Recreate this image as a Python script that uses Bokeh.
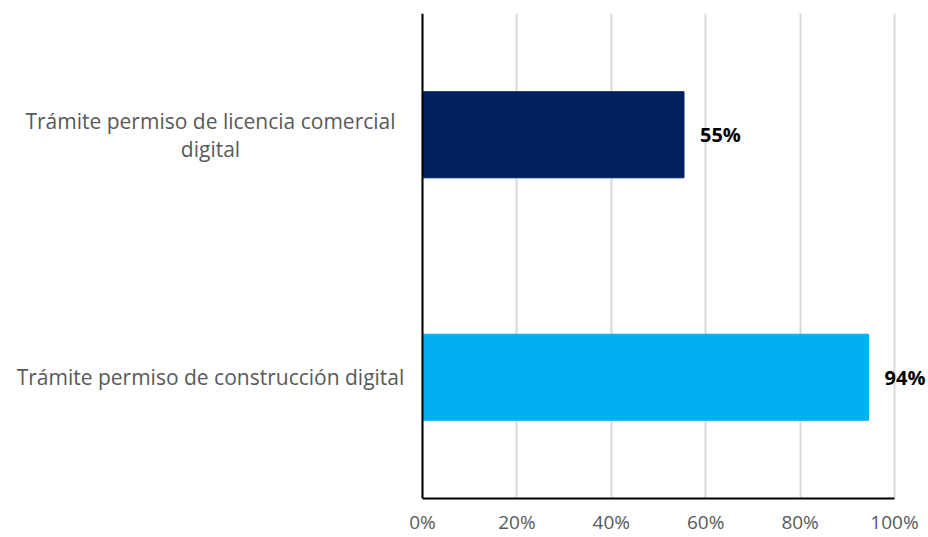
from bokeh.plotting import figure
from bokeh.models import ColumnDataSource, FactorRange, FixedTicker, Span
from bokeh.core.properties import value
from bokeh.embed import file_html
from bokeh.resources import INLINE

categories = ["Trámite permiso de construcción digital",
              "Trámite permiso de licencia comercial\ndigital"]
values = [94.5, 55.4]
value_labels = ["94%", "55%"]
colors = ["#00B0F0", "#002060"]
ticks = [0, 20, 40, 60, 80, 100]

src = ColumnDataSource(dict(cat=categories, val=values, lab=value_labels, col=colors,
                            zero=[0] * len(categories)))

# the frame spans the whole width so that the category and value labels are not clipped;
# the value axis itself is bounded to 0-100
p = figure(width=928, height=537, y_range=FactorRange(*categories), x_range=(-89.4, 107.2),
           output_backend="svg", toolbar_location=None,
           min_border_left=0, min_border_right=0, min_border_top=13, min_border_bottom=39)
p.outline_line_color = None
p.background_fill_color = "white"

p.xgrid.grid_line_color = "#D9D9D9"
p.xgrid.grid_line_width = 2
p.ygrid.grid_line_color = None

p.hbar(y="cat", right="val", left=0, height=0.355, color="col", source=src)

p.text(x="val", y="cat", text="lab", source=src, x_offset=16, text_baseline="middle",
       text_font=value("Open Sans"), text_font_size="20px", text_font_style="bold",
       text_color="black")
p.text(x="zero", y="cat", text="cat", source=src, x_offset=-212, text_align="center",
       text_baseline="middle", text_line_height=1.0,
       text_font=value("Open Sans"), text_font_size="21px", text_color="#595959")

p.add_layout(Span(location=0, dimension="height", line_color="black", line_width=2))

p.xaxis.ticker = FixedTicker(ticks=ticks)
p.xaxis.bounds = (0, 100)
p.xaxis.major_label_overrides = {t: f"{t}%" for t in ticks}
p.xaxis.axis_line_color = "black"
p.xaxis.axis_line_width = 2
p.xaxis.major_tick_line_color = None
p.xaxis.minor_tick_line_color = None
p.xaxis.major_label_text_font = "Open Sans"
p.xaxis.major_label_text_font_size = "19px"
p.xaxis.major_label_text_color = "#595959"
p.xaxis.major_label_standoff = 4

p.yaxis.visible = False

open("out.html", "w").write(file_html(p, INLINE))
